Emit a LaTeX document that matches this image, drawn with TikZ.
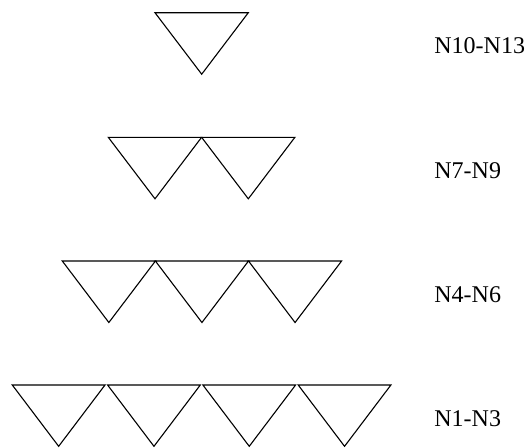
\documentclass[tikz,border=0pt]{standalone}
\usepackage{fontspec}
\setmainfont{Liberation Serif}
\begin{document}
\begin{tikzpicture}[x=0.5pt,y=-0.5pt,
  tri/.style={draw=black,line width=0.55pt,line join=miter},
  lab/.style={anchor=base west,inner sep=0pt,font=\fontsize{12}{14}\selectfont}]
\useasboundingbox (0,0) rectangle (530,447);
% row 1 (top)
\draw[tri] (155,12.7) coordinate (a1) -- (248.3,12.7) -- (201.7,74.2) -- cycle;
% row 2
\foreach \i in {0,1}{
  \draw[tri] ({108.3+93.3*\i},137.3) -- ({201.6+93.3*\i},137.3) -- ({155+93.3*\i},198.8) -- cycle;
}
% row 3
\foreach \i in {0,1,2}{
  \draw[tri] ({62.3+93.1*\i},261) -- ({155.4+93.1*\i},261) -- ({108.85+93.1*\i},322.5) -- cycle;
}
% row 4
\foreach \i in {0,1,2,3}{
  \draw[tri] ({12.3+95.3*\i},385) -- ({105+95.3*\i},385) -- ({58.65+95.3*\i},446.3) -- cycle;
}
\node[lab] (l4) at (434,53.7) {N10-N13};
\node[lab] (l3) at (434,178.3) {N7-N9};
\node[lab] (l2) at (434,302) {N4-N6};
\node[lab] (l1) at (434,426) {N1-N3};
\end{tikzpicture}
\end{document}
